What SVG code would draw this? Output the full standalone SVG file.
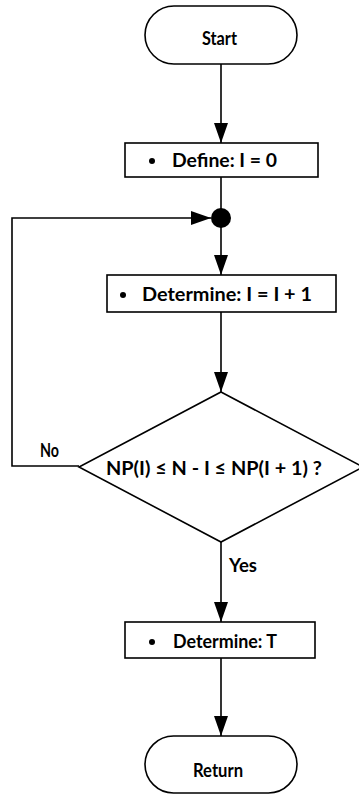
<svg xmlns="http://www.w3.org/2000/svg" width="359" height="795" viewBox="0 0 359 795">
  <style>
    .shape { fill: #ffffff; stroke: #000000; stroke-width: 1.6; }
    .wire { fill: none; stroke: #000000; stroke-width: 1.6; }
    .label { font-family: Lato, "Liberation Sans", sans-serif; font-weight: 700; font-size: 19px; fill: #000000; }
    .dot { fill: #000000; }
  </style>
  <defs>
    <marker id="arrow" markerUnits="userSpaceOnUse" markerWidth="20" markerHeight="14" refX="20" refY="7" orient="auto">
      <path d="M0,0 L20,7 L0,14 Z" fill="#000000"/>
    </marker>
  </defs>
  <rect width="359" height="795" fill="#ffffff"/>

  <!-- connectors -->
  <g id="connectors">
    <line class="wire" x1="221" y1="64" x2="221" y2="143" marker-end="url(#arrow)"/>
    <line class="wire" x1="221" y1="177" x2="221" y2="210"/>
    <line class="wire" x1="221" y1="226" x2="221" y2="275" marker-end="url(#arrow)"/>
    <line class="wire" x1="221" y1="312" x2="221" y2="392" marker-end="url(#arrow)"/>
    <line class="wire" x1="221" y1="542" x2="221" y2="622" marker-end="url(#arrow)"/>
    <line class="wire" x1="221" y1="658" x2="221" y2="736" marker-end="url(#arrow)"/>
    <!-- "No" branch loops back to the junction -->
    <polyline class="wire" points="79,466 12,466 12,218 211,218" marker-end="url(#arrow)"/>
    <text class="label" x="40" y="457" textLength="19" lengthAdjust="spacingAndGlyphs">No</text>
    <text class="label" x="229" y="572" textLength="28" lengthAdjust="spacingAndGlyphs">Yes</text>
  </g>

  <g id="start">
    <rect class="shape" x="145" y="6" width="152" height="58" rx="29" ry="29"/>
    <text class="label" x="202" y="45" textLength="35" lengthAdjust="spacingAndGlyphs">Start</text>
  </g>

  <g id="define">
    <rect class="shape" x="125" y="143" width="193" height="34"/>
    <circle class="dot" cx="152" cy="161" r="3"/>
    <text class="label" x="172" y="167" textLength="105" lengthAdjust="spacingAndGlyphs">Define:  I = 0</text>
  </g>

  <g id="junction">
    <circle class="dot" cx="221" cy="218" r="10"/>
  </g>

  <g id="increment">
    <rect class="shape" x="107" y="275" width="229" height="37"/>
    <circle class="dot" cx="123" cy="295" r="3"/>
    <text class="label" x="142" y="301" textLength="170" lengthAdjust="spacingAndGlyphs">Determine:  I = I + 1</text>
  </g>

  <g id="decision">
    <polygon class="shape" points="221,392 363,467 221,542 79,467"/>
    <text class="label" x="106" y="475" textLength="216" lengthAdjust="spacingAndGlyphs">NP(I) ≤ N - I ≤ NP(I + 1) ?</text>
  </g>

  <g id="determine-t">
    <rect class="shape" x="125" y="622" width="190" height="36"/>
    <circle class="dot" cx="152" cy="642" r="3"/>
    <text class="label" x="173" y="648" textLength="104" lengthAdjust="spacingAndGlyphs">Determine:  T</text>
  </g>

  <g id="return">
    <rect class="shape" x="145" y="736" width="152" height="57" rx="28.5" ry="28.5"/>
    <text class="label" x="193" y="777" textLength="50" lengthAdjust="spacingAndGlyphs">Return</text>
  </g>
</svg>
